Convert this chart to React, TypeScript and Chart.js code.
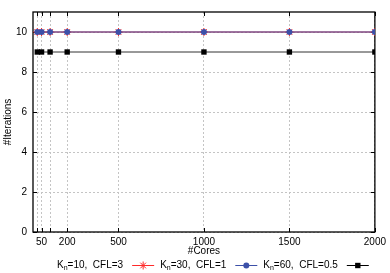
import { useEffect, useRef } from 'react';
import { Chart, registerables } from 'chart.js';

Chart.register(...registerables);

const cores = [25, 50, 100, 200, 500, 1000, 1500, 2000];
const itersKn10 = [10, 10, 10, 10, 10, 10, 10, 10];
const itersKn30 = [10, 10, 10, 10, 10, 10, 10, 10];
const itersKn60 = [9, 9, 9, 9, 9, 9, 9, 9];
const xTicks = [25, 50, 100, 200, 500, 1000, 1500, 2000];
const xTickLabels = ['', '50', '', '200', '500', '1000', '1500', '2000'];
const yTicks = [0, 2, 4, 6, 8, 10];
const knValues = ['10', '30', '60'];
const cflValues = ['3', '1', '0.5'];

const FONT = '"Liberation Sans", Arial, Helvetica, sans-serif';
const RED = '#ff2a2a';
const BLUE = '#3c50a8';
const BLACK = '#000000';

function drawMarker(ctx: CanvasRenderingContext2D, style: string, x: number, y: number, r: number, color: string) {
  ctx.save();
  ctx.strokeStyle = color;
  ctx.fillStyle = color;
  ctx.lineWidth = 1;
  ctx.beginPath();
  if (style === 'star') {
    const d = r * Math.SQRT1_2;
    ctx.moveTo(x - r, y); ctx.lineTo(x + r, y);
    ctx.moveTo(x, y - r); ctx.lineTo(x, y + r);
    ctx.moveTo(x - d, y - d); ctx.lineTo(x + d, y + d);
    ctx.moveTo(x - d, y + d); ctx.lineTo(x + d, y - d);
    ctx.stroke();
  } else if (style === 'circle') {
    ctx.arc(x, y, r, 0, Math.PI * 2);
    ctx.fill();
  } else {
    const s = r * Math.SQRT1_2;
    ctx.fillRect(x - s, y - s, 2 * s, 2 * s);
  }
  ctx.restore();
}

export default function App() {
  const ref = useRef<HTMLCanvasElement>(null);

  useEffect(() => {
    document.body.style.margin = '0';
    const canvas = ref.current;
    if (!canvas) return;

    const framePlugin = {
      id: 'frame',
      beforeDatasetsDraw(chart: any) {
        const { ctx, chartArea: a, scales } = chart;
        ctx.save();
        ctx.strokeStyle = '#000';
        ctx.lineWidth = 1;
        ctx.beginPath();
        for (const v of xTicks) {
          const px = Math.round(scales.x.getPixelForValue(v)) + 0.5;
          ctx.moveTo(px, a.bottom); ctx.lineTo(px, a.bottom - 4);
          ctx.moveTo(px, a.top); ctx.lineTo(px, a.top + 4);
        }
        for (const v of yTicks) {
          const py = Math.round(scales.y.getPixelForValue(v)) + 0.5;
          ctx.moveTo(a.left, py); ctx.lineTo(a.left + 4, py);
          ctx.moveTo(a.right, py); ctx.lineTo(a.right - 4, py);
        }
        ctx.stroke();
        ctx.lineWidth = 1.3;
        ctx.strokeRect(a.left, a.top, a.right - a.left, a.bottom - a.top);
        ctx.restore();
      },
    };

    const legendPlugin = {
      id: 'keyLegend',
      afterDraw(chart: any) {
        const ctx: CanvasRenderingContext2D = chart.ctx;
        const styles = ['star', 'circle', 'rect'];
        const colors = [RED, BLUE, BLACK];
        const radii = [4, 3, 3.8];
        const y = 265;
        let x = 57;
        ctx.save();
        ctx.fillStyle = '#000';
        ctx.textBaseline = 'middle';
        ctx.textAlign = 'left';
        knValues.forEach((kn, i) => {
          ctx.font = `10px ${FONT}`;
          ctx.fillText('K', x, y);
          x += ctx.measureText('K').width;
          ctx.font = `7px ${FONT}`;
          ctx.fillText('n', x, y + 3);
          x += ctx.measureText('n').width;
          ctx.font = `10px ${FONT}`;
          const rest = `=${kn},  CFL=${cflValues[i]}`;
          ctx.fillText(rest, x, y);
          x += ctx.measureText(rest).width;
          x += 9;
          ctx.strokeStyle = colors[i];
          ctx.lineWidth = 1;
          ctx.beginPath();
          ctx.moveTo(x, y + 0.5);
          ctx.lineTo(x + 22, y + 0.5);
          ctx.stroke();
          drawMarker(ctx, styles[i], x + 11, y + 0.5, radii[i], colors[i]);
          x += 22 + 6;
        });
        ctx.restore();
      },
    };

    const chart = new Chart(canvas, {
      type: 'line',
      data: {
        datasets: [
          {
            label: 'Kn=10, CFL=3',
            data: cores.map((c, i) => ({ x: c, y: itersKn10[i] })),
            borderColor: RED,
            backgroundColor: RED,
            pointStyle: 'star',
            pointRadius: 4,
            pointBorderColor: RED,
            pointBorderWidth: 1,
            borderWidth: 1,
            order: 1,
          },
          {
            label: 'Kn=30, CFL=1',
            data: cores.map((c, i) => ({ x: c, y: itersKn30[i] })),
            borderColor: BLUE,
            backgroundColor: BLUE,
            pointStyle: 'circle',
            pointRadius: 3,
            pointBorderWidth: 0,
            borderWidth: 1,
            order: 0,
          },
          {
            label: 'Kn=60, CFL=0.5',
            data: cores.map((c, i) => ({ x: c, y: itersKn60[i] })),
            borderColor: '#333333',
            backgroundColor: BLACK,
            pointStyle: 'rect',
            pointRadius: 3.8,
            pointBorderWidth: 0,
            borderWidth: 1,
            order: 2,
          },
        ],
      },
      options: {
        responsive: false,
        animation: false,
        events: [],
        layout: { padding: { top: 9, right: 14, bottom: 15, left: 0 } },
        plugins: { legend: { display: false }, tooltip: { enabled: false } },
        scales: {
          x: {
            type: 'linear',
            min: 0,
            max: 2000,
            afterBuildTicks: (s: any) => {
              s.ticks = xTicks.map((v) => ({ value: v }));
            },
            afterFit: (s: any) => {
              s.height = 26;
            },
            ticks: {
              autoSkip: false,
              maxRotation: 0,
              padding: 4,
              color: '#000',
              font: { family: FONT, size: 10 },
              callback: (v: any) => xTickLabels[xTicks.indexOf(Number(v))] ?? '',
            },
            grid: { color: '#c4c4c4', drawTicks: false, lineWidth: 1 },
            border: { display: false, dash: [2, 2] },
            title: {
              display: true,
              text: '#Cores',
              color: '#000',
              font: { family: FONT, size: 10 },
              padding: { top: 0, bottom: 0.5 },
            },
          },
          y: {
            type: 'linear',
            min: 0,
            max: 11,
            afterBuildTicks: (s: any) => {
              s.ticks = yTicks.map((v) => ({ value: v }));
            },
            afterFit: (s: any) => {
              s.width = 33;
            },
            ticks: {
              padding: 6,
              color: '#000',
              font: { family: FONT, size: 10 },
            },
            grid: { color: '#c4c4c4', drawTicks: false, lineWidth: 1 },
            border: { display: false, dash: [2, 2] },
            title: {
              display: true,
              text: '#Iterations',
              color: '#000',
              font: { family: FONT, size: 10 },
              padding: { top: 2, bottom: 0 },
            },
          },
        },
      },
      plugins: [framePlugin, legendPlugin],
    } as any);

    return () => chart.destroy();
  }, []);

  return (
    <div style={{ width: 390, height: 273, position: 'relative' }}>
      <canvas ref={ref} width={390} height={273} />
    </div>
  );
}
